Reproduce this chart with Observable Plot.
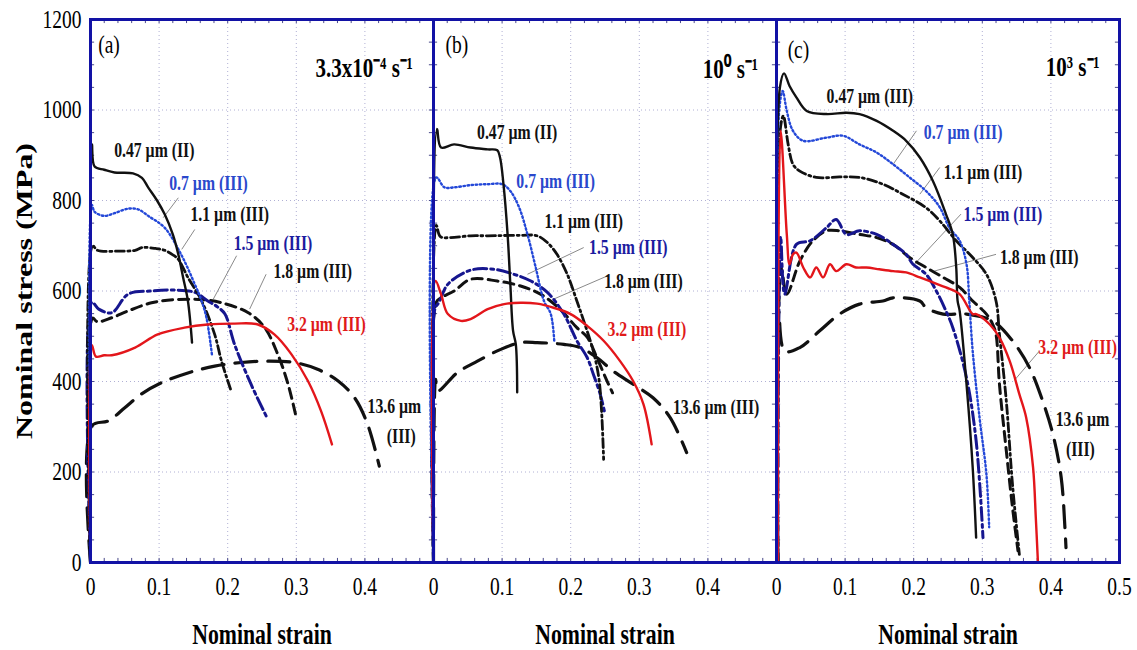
<!DOCTYPE html>
<html><head><meta charset="utf-8">
<script src="https://cdn.jsdelivr.net/npm/d3@7"></script>
<script src="https://cdn.jsdelivr.net/npm/@observablehq/plot@0.6"></script>
<style>body{margin:0;background:#fff;} #chart svg{display:block}</style>
</head><body><div id="chart"></div>
<script>
// ---------- categories / ticks ----------
const panels = ["a", "b", "c"];
const panelLetters = ["(a)", "(b)", "(c)"];
const rateLabels = ["3.3x10⁻⁴ s⁻¹", "10⁰ s⁻¹", "10³ s⁻¹"];
const sizes = ["13.6", "1.8", "1.5", "1.1", "0.7", "0.47", "3.2"];
const xTickValues = [0, 0.1, 0.2, 0.3, 0.4, 0.5];
const yTickValues = [0, 200, 400, 600, 800, 1000, 1200];
const gridX = [0.1, 0.2, 0.3, 0.4];
const gridY = [200, 400, 600, 800, 1000];

// ---------- (a) 3.3x10^-4 s^-1 : [strain, stress] ----------
const a_047 = [[0,0],[0.002,924],[0.006,875],[0.02,868],[0.035,862],[0.062,860],[0.075,850],[0.084,829],[0.097,800],[0.108,770],[0.12,725],[0.128,681],[0.135,630],[0.142,578],[0.148,486]];
const a_07  = [[0,0],[0.002,790],[0.006,775],[0.02,766],[0.035,772],[0.055,782],[0.07,780],[0.085,765],[0.108,740],[0.132,681],[0.152,615],[0.162,578],[0.169,541],[0.177,460]];
const a_11  = [[0,0],[0.003,700],[0.01,690],[0.04,688],[0.065,690],[0.075,696],[0.095,694],[0.108,690],[0.12,680],[0.128,670],[0.142,630],[0.162,578],[0.181,504],[0.191,445],[0.205,379]];
const a_15  = [[0,0],[0.002,575],[0.012,560],[0.031,552],[0.055,593],[0.089,600],[0.123,602],[0.152,597],[0.171,578],[0.185,565],[0.196,549],[0.21,482],[0.234,394],[0.256,324]];
const a_18  = [[0,0],[0.003,540],[0.01,532],[0.031,541],[0.055,556],[0.089,574],[0.123,581],[0.162,581],[0.191,574],[0.23,552],[0.254,519],[0.273,460],[0.288,394],[0.30,320]];
const a_32  = [[0,0],[0.002,480],[0.008,455],[0.02,458],[0.031,458],[0.065,475],[0.098,504],[0.137,519],[0.171,526],[0.21,528],[0.244,526],[0.268,504],[0.293,460],[0.317,401],[0.336,335],[0.352,261]];
const a_136 = [[0,0],[0.002,302],[0.026,313],[0.05,342],[0.074,372],[0.103,397],[0.142,419],[0.181,434],[0.22,442],[0.259,445],[0.297,442],[0.331,427],[0.361,401],[0.385,364],[0.404,305],[0.421,213]];

// ---------- (b) 10^0 s^-1 ----------
const b_047 = [[0,0],[0.005,958],[0.011,917],[0.03,924],[0.054,917],[0.079,913],[0.093,911],[0.097,895],[0.102,836],[0.108,725],[0.112,615],[0.116,512],[0.12,482],[0.122,376]];
const b_07  = [[0,0],[0.004,851],[0.016,829],[0.03,829],[0.054,834],[0.079,836],[0.1,836],[0.112,821],[0.125,784],[0.137,725],[0.149,652],[0.161,578],[0.171,549],[0.176,490]];
const b_11  = [[0,0],[0.004,745],[0.01,720],[0.025,718],[0.054,722],[0.079,722],[0.127,723],[0.151,722],[0.166,707],[0.18,681],[0.195,637],[0.209,578],[0.219,534],[0.233,467],[0.241,408],[0.245,335],[0.248,228]];
const b_15  = [[0,0],[0.002,560],[0.008,575],[0.021,615],[0.054,646],[0.088,648],[0.117,637],[0.142,622],[0.166,597],[0.19,549],[0.209,490],[0.224,453],[0.233,416],[0.243,372],[0.249,335]];
const b_18  = [[0,0],[0.004,575],[0.011,585],[0.03,600],[0.054,626],[0.093,622],[0.127,611],[0.156,593],[0.185,559],[0.209,519],[0.224,498],[0.238,453],[0.253,401],[0.261,375]];
const b_32  = [[0,0],[0.003,622],[0.011,593],[0.021,549],[0.04,534],[0.054,538],[0.079,560],[0.103,571],[0.127,574],[0.151,572],[0.175,563],[0.2,549],[0.224,523],[0.248,490],[0.272,445],[0.291,401],[0.306,350],[0.318,261]];
const b_136 = [[0,0],[0.003,405],[0.006,379],[0.035,420],[0.064,445],[0.098,471],[0.127,486],[0.151,486],[0.19,482],[0.214,475],[0.238,453],[0.262,423],[0.291,394],[0.32,364],[0.345,320],[0.369,243]];

// ---------- (c) 10^3 s^-1 ----------
const c_047 = [[0.002,0],[0.005,1050],[0.011,1081],[0.019,1053],[0.029,1028],[0.044,998],[0.073,991],[0.102,994],[0.121,991],[0.146,976],[0.17,954],[0.189,932],[0.209,895],[0.228,843],[0.247,770],[0.257,725],[0.262,652],[0.264,578],[0.267,556],[0.277,394],[0.286,210],[0.291,55]];
const c_07  = [[0.002,0],[0.004,1000],[0.009,1042],[0.015,998],[0.024,954],[0.039,932],[0.073,939],[0.097,943],[0.121,924],[0.146,906],[0.17,880],[0.194,851],[0.218,821],[0.238,785],[0.252,740],[0.267,711],[0.277,659],[0.281,578],[0.286,467],[0.296,320],[0.306,195],[0.31,78]];
const c_11  = [[0.002,0],[0.005,950],[0.01,987],[0.017,924],[0.024,880],[0.034,865],[0.058,851],[0.092,852],[0.121,851],[0.155,836],[0.184,814],[0.218,784],[0.238,755],[0.262,711],[0.286,674],[0.306,637],[0.32,578],[0.325,504],[0.335,357],[0.344,173],[0.354,18]];
const c_15  = [[0.002,0],[0.006,720],[0.012,593],[0.029,703],[0.049,711],[0.073,740],[0.087,758],[0.102,725],[0.121,733],[0.146,725],[0.17,703],[0.189,681],[0.199,659],[0.218,637],[0.233,600],[0.247,556],[0.257,519],[0.277,408],[0.291,269],[0.301,55]];
const c_18  = [[0.002,0],[0.007,650],[0.015,593],[0.034,666],[0.053,711],[0.073,733],[0.092,733],[0.121,725],[0.146,718],[0.17,703],[0.194,674],[0.218,652],[0.243,630],[0.267,608],[0.286,578],[0.306,549],[0.315,527],[0.32,504],[0.325,394],[0.335,247],[0.344,122],[0.352,26]];
const c_32  = [[0.002,0],[0.006,954],[0.015,725],[0.019,659],[0.024,681],[0.029,685],[0.039,652],[0.049,630],[0.058,652],[0.068,630],[0.078,659],[0.087,644],[0.102,659],[0.116,652],[0.131,652],[0.15,648],[0.17,644],[0.189,641],[0.209,630],[0.228,619],[0.247,608],[0.267,593],[0.286,549],[0.291,549],[0.311,526],[0.325,497],[0.34,445],[0.354,372],[0.364,320],[0.374,210],[0.378,99],[0.381,4]];
const c_136 = [[0.002,0],[0.003,556],[0.012,467],[0.034,475],[0.063,512],[0.092,549],[0.121,571],[0.155,578],[0.17,585],[0.209,578],[0.218,563],[0.243,549],[0.277,549],[0.315,534],[0.344,490],[0.369,430],[0.388,357],[0.403,283],[0.415,188],[0.421,62],[0.422,33]];

// ---------- annotations: [text, strain, stress, series] ----------
const labelsA = [["0.47 µm (II)",0.093,912,"0.47"],["0.7 µm (III)",0.172,839,"0.7"],["1.1 µm (III)",0.203,770,"1.1"],["1.5 µm (III)",0.266,706,"1.5"],["1.8 µm (III)",0.324,644,"1.8"],["3.2 µm (III)",0.344,527,"3.2"],["13.6 µm",0.443,346,"13.6"],["(III)",0.453,280,"13.6"]];
const labelsB = [["0.47 µm (II)",0.122,950,"0.47"],["0.7 µm (III)",0.178,843,"0.7"],["1.1 µm (III)",0.219,755,"1.1"],["1.5 µm (III)",0.284,696,"1.5"],["1.8 µm (III)",0.306,622,"1.8"],["3.2 µm (III)",0.311,515,"3.2"],["13.6 µm (III)",0.412,342,"13.6"]];
const labelsC = [["0.47 µm (III)",0.136,1031,"0.47"],["0.7 µm (III)",0.272,950,"0.7"],["1.1 µm (III)",0.301,862,"1.1"],["1.5 µm (III)",0.330,770,"1.5"],["1.8 µm (III)",0.383,674,"1.8"],["3.2 µm (III)",0.439,475,"3.2"],["13.6 µm",0.446,317,"13.6"],["(III)",0.443,250,"13.6"]];
// leader lines: [x1, y1, x2, y2]
const leadersA = [[0.128,806,0.106,762],[0.152,736,0.133,692],[0.213,678,0.179,582],[0.256,637,0.232,560]];
const leadersB = [[0.219,696,0.137,637],[0.253,633,0.175,582]];
const leadersC = [[0.204,954,0.170,880],[0.238,873,0.209,814],[0.269,770,0.201,659],[0.320,681,0.230,644],[0.383,467,0.347,403]];
// panel letter and rate positions: [strain, stress]
const letterPos = [[0.027,1145],[0.034,1145],[0.032,1134]];
const ratePos = [[0.47,1093],[0.473,1091],[0.471,1094]];

// ---------- styles ----------
const style = {
  "0.47": {stroke: "#111111", width: 2.4, dash: null},
  "0.7":  {stroke: "#2448d8", width: 2.4, dash: "1.5,2.6"},
  "1.1":  {stroke: "#111111", width: 2.8, dash: "9,3.5,2,3.5"},
  "1.5":  {stroke: "#16168f", width: 3,   dash: "13,4,3,4"},
  "1.8":  {stroke: "#111111", width: 3,   dash: "10,6"},
  "3.2":  {stroke: "#e3161b", width: 2.4, dash: null},
  "13.6": {stroke: "#111111", width: 3.2, dash: "22,11"}
};
const labelColor = {"0.47": "#111", "0.7": "#2a48cc", "1.1": "#111", "1.5": "#1c1ca0", "1.8": "#111", "3.2": "#e01a1a", "13.6": "#111"};
const FONT = "'Liberation Serif', 'Times New Roman', serif";
const BORDER = "#1212a5";

// ---------- assemble tables ----------
const curves = [
  ["a","0.47",a_047],["a","0.7",a_07],["a","1.1",a_11],["a","1.5",a_15],["a","1.8",a_18],["a","3.2",a_32],["a","13.6",a_136],
  ["b","0.47",b_047],["b","0.7",b_07],["b","1.1",b_11],["b","1.5",b_15],["b","1.8",b_18],["b","3.2",b_32],["b","13.6",b_136],
  ["c","0.47",c_047],["c","0.7",c_07],["c","1.1",c_11],["c","1.5",c_15],["c","1.8",c_18],["c","3.2",c_32],["c","13.6",c_136]
];
const rows = curves.flatMap(([panel, size, pts]) => pts.map(([x, y]) => ({panel, size, x, y})));
const labelRows = [["a", labelsA], ["b", labelsB], ["c", labelsC]].flatMap(([panel, L]) => L.map(([text, x, y, s]) => ({panel, text, x, y, s})));
const leaderRows = [["a", leadersA], ["b", leadersB], ["c", leadersC]].flatMap(([panel, L]) => L.map(([x1, y1, x2, y2]) => ({panel, x1, y1, x2, y2})));
const letterRows = panels.map((p, i) => ({panel: p, text: panelLetters[i], x: letterPos[i][0], y: letterPos[i][1]}));
const rateRows = panels.map((p, i) => ({panel: p, text: rateLabels[i], x: ratePos[i][0], y: ratePos[i][1]}));
const xTickRows = panels.flatMap(p => (p === "c" ? xTickValues : xTickValues.slice(0, 5)).map(v => ({panel: p, v})));
const minorX = d3.range(0.02, 0.499, 0.02);
const minorY = d3.range(50, 1199, 50);

const lineMarks = sizes.map(s => Plot.line(rows.filter(r => r.size === s), {
  x: "x", y: "y", fx: "panel", z: "panel",
  stroke: style[s].stroke, strokeWidth: style[s].width,
  strokeDasharray: style[s].dash || undefined, curve: "catmull-rom", strokeLinejoin: "round"
}));

const chart = Plot.plot({
  width: 1137, height: 650,
  marginLeft: 89, marginRight: 17, marginTop: 19, marginBottom: 88,
  style: {fontFamily: FONT, background: "white", color: "black"},
  fx: {domain: panels, padding: 0, axis: null},
  x: {domain: [0, 0.5], axis: null},
  y: {domain: [0, 1200], axis: null},
  marks: [
    Plot.ruleX(gridX, {stroke: "#b0b0d4", strokeWidth: 1, strokeDasharray: "1,3"}),
    Plot.ruleY(gridY, {stroke: "#b0b0d4", strokeWidth: 1, strokeDasharray: "1,3"}),
    Plot.ruleX(minorX, {y1: 0, y2: 9, stroke: "#4a4a8a", strokeWidth: 1}),
    Plot.ruleX(minorX, {y1: 1191, y2: 1200, stroke: "#4a4a8a", strokeWidth: 1}),
    Plot.ruleY(minorY, {x1: 0, x2: 0.006, stroke: "#4a4a8a", strokeWidth: 1}),
    Plot.ruleY(minorY, {x1: 0.494, x2: 0.5, stroke: "#4a4a8a", strokeWidth: 1}),
    Plot.link(leaderRows, {fx: "panel", x1: "x1", y1: "y1", x2: "x2", y2: "y2", stroke: "#8a8a8a", strokeWidth: 1}),
    ...lineMarks,
    Plot.text(labelRows, {fx: "panel", x: "x", y: "y", text: "text", fill: d => labelColor[d.s], fontSize: 21, fontWeight: "bold", fontFamily: FONT}),
    Plot.text(letterRows, {fx: "panel", x: "x", y: "y", text: "text", fontSize: 26, fontFamily: FONT, fill: "black"}),
    Plot.text(rateRows, {fx: "panel", x: "x", y: "y", text: "text", textAnchor: "end", fontSize: 28, fontWeight: "bold", fontFamily: FONT, fill: "black"}),
    Plot.text(xTickRows, {fx: "panel", x: "v", text: d => d.v === 0 ? "0" : String(d.v), frameAnchor: "bottom", lineAnchor: "middle", dy: 24, fontSize: 26, fontFamily: FONT, fill: "black"}),
    Plot.text(panels, {fx: d => d, text: () => "Nominal strain", frameAnchor: "bottom", lineAnchor: "middle", dy: 72, fontSize: 29, fontWeight: "bold", fontFamily: FONT, fill: "black"}),
    Plot.text(yTickValues, {fx: () => "a", y: d => d, text: d => String(d), frameAnchor: "left", dx: -9, textAnchor: "end", fontSize: 26, fontFamily: FONT, fill: "black"}),
    Plot.text(["Nominal stress (MPa)"], {fx: () => "a", frameAnchor: "left", textAnchor: "middle", dx: -66, rotate: -90, fontSize: 32, fontWeight: "bold", fontFamily: FONT, fill: "black"}),
    Plot.frame({stroke: BORDER, strokeWidth: 3})
  ]
});

// the reference artwork is horizontally condensed: narrow every text run about its anchor
const SX = 0.75;
chart.querySelectorAll("text").forEach(t => {
  const tr = t.getAttribute("transform") || "";
  const xa = t.getAttribute("x") || "";
  const x = xa.match(/^-?[\d.]+$/) ? parseFloat(xa) : 0;
  const ya = t.getAttribute("y") || "";
  const y = ya.match(/^-?[\d.]+$/) ? parseFloat(ya) : 0;
  const sc = tr.includes("rotate") ? `scale(1,${SX})` : `scale(${SX},1)`;
  t.setAttribute("transform", `${tr} translate(${x},${y}) ${sc} translate(${-x},${-y})`);
});
document.getElementById("chart").appendChild(chart);
</script>
</body></html>
